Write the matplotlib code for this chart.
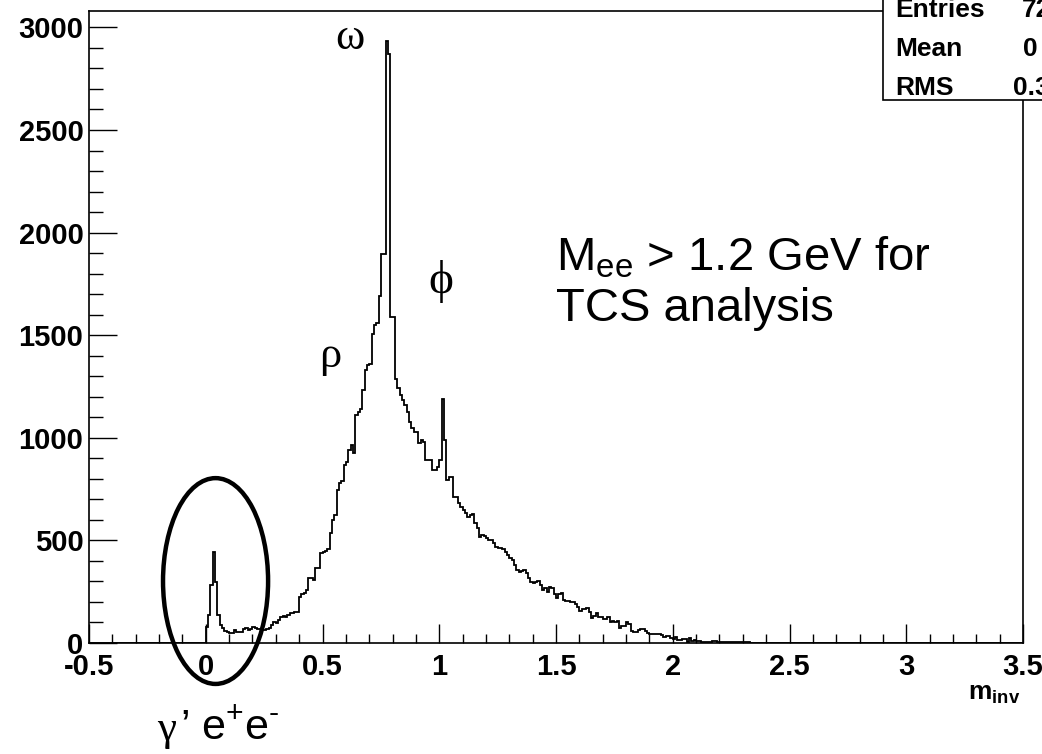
import numpy as np
import matplotlib
matplotlib.use("Agg")
import matplotlib.pyplot as plt
from matplotlib.patches import Ellipse, Rectangle
from matplotlib.ticker import MultipleLocator

plt.rcParams["font.family"] = ["Liberation Sans", "DejaVu Sans"]
plt.rcParams["mathtext.fontset"] = "custom"
plt.rcParams["mathtext.rm"] = "Liberation Sans"
plt.rcParams["mathtext.default"] = "regular"

# histogram: 0.01 wide bins, first filled bin starts at 0.00
hist_lo, hist_hi, bin_width = -0.5, 3.5, 0.01
first_filled = 0.0

counts_gamma = [80, 136, 283, 445, 299, 136, 88, 71, 60, 52,
                47, 50, 63, 55, 55, 55, 68, 72, 62, 70,
                78, 72, 66, 70, 64, 63, 70, 72, 86, 100,
                96, 112, 128, 130, 125, 135, 148, 148, 150, 152]
counts_rho_omega = [226, 237, 245, 258, 318, 318, 307, 364, 364, 437,
                    445, 450, 456, 534, 599, 623, 745, 778, 790, 867,
                    880, 940, 964, 924, 1110, 1127, 1140, 1232, 1330, 1354,
                    1360, 1508, 1549, 1560, 1690, 1898, 1898, 2934, 2872, 1590,
                    1590, 1289, 1241, 1208, 1184, 1159, 1127, 1078, 1050, 1029,
                    1029, 973, 989, 981, 891, 891, 891, 843, 843, 859]
counts_phi = [891, 1187, 989, 794, 810, 810, 713, 713, 680, 664,
              648, 632, 615, 625, 628, 583, 560, 518, 526, 520,
              510, 502, 502, 485, 469, 461, 461, 456, 445, 429,
              412, 404, 380, 356, 347, 350, 356, 339, 315, 299,
              291, 295, 304, 283, 258, 266, 250, 274, 266, 240]
counts_tail = [220, 240, 245, 210, 206, 206, 198, 198, 190, 174,
               157, 166, 166, 169, 152, 120, 130, 146, 125, 125,
               117, 117, 125, 104, 109, 101, 109, 72, 81, 81,
               101, 93, 60, 55, 55, 65, 68, 68, 60, 47,
               44, 44, 44, 44, 44, 39, 28, 36, 36, 23,
               19, 28, 16, 16, 19, 19, 6, 23, 11, 15,
               8, 8, 3, 6, 6, 3, 3, 9, 9, 6,
               6, 6, 3, 3, 3, 3, 3, 3, 6, 6,
               3, 3, 3, 2, 2, 2, 2, 2, 2, 1,
               1, 1, 1, 1, 1]

x_ticks = [-0.5, 0, 0.5, 1, 1.5, 2, 2.5, 3, 3.5]
x_ticklabels = ["-0.5", "0", "0.5", "1", "1.5", "2", "2.5", "3", "3.5"]
y_ticks = [0, 500, 1000, 1500, 2000, 2500, 3000]
y_ticklabels = ["0", "500", "1000", "1500", "2000", "2500", "3000"]

stats_names = ["Entries", "Mean", "RMS"]
stats_values = ["72", "0", "0.3"]

# build the full histogram
n_bins = int(round((hist_hi - hist_lo) / bin_width))
edges = np.linspace(hist_lo, hist_hi, n_bins + 1)
values = np.array(counts_gamma + counts_rho_omega + counts_phi + counts_tail, dtype=float)
counts = np.zeros(n_bins)
start = int(round((first_filled - hist_lo) / bin_width))
counts[start:start + len(values)] = values

W, H = 1042, 754
fig = plt.figure(figsize=(W / 100, H / 100), dpi=100)
ax = fig.add_axes([89 / W, 111 / H, (1023 - 89) / W, (743 - 111) / H])

ax.stairs(counts, edges, color="black", linewidth=1.3)
ax.set_xlim(hist_lo, hist_hi)
ax.set_ylim(0, 3080)

ax.set_xticks(x_ticks)
ax.set_xticklabels(x_ticklabels)
ax.set_yticks(y_ticks)
ax.set_yticklabels(y_ticklabels)
ax.xaxis.set_minor_locator(MultipleLocator(0.1))
ax.yaxis.set_minor_locator(MultipleLocator(100))
ax.tick_params(axis="x", which="major", direction="in", length=13.5, width=1.0, pad=7)
ax.tick_params(axis="x", which="minor", direction="in", length=6.5, width=1.0)
ax.tick_params(axis="y", which="major", direction="in", length=20, width=1.0, pad=4)
ax.tick_params(axis="y", which="minor", direction="in", length=10, width=1.0)
for lab in ax.get_xticklabels() + ax.get_yticklabels():
    lab.set_fontsize(21)
    lab.set_fontweight("bold")
for sp in ax.spines.values():
    sp.set_linewidth(1.2)

# gamma' peak marker
ax.add_patch(Ellipse((0.042, 302), 0.45, 1003, fill=False, lw=3.2,
                     edgecolor="black", clip_on=False, zorder=4))

# resonance labels
greek = dict(family=["Liberation Serif", "DejaVu Serif"], fontsize=32, ha="center", va="center")
ax.text(0.618, 2950, "ω", **greek)
ax.text(0.535, 1400, "ρ", **greek)
ax.text(1.007, 1760, "ϕ", fontsize=34, family=greek["family"], ha="center", va="center")

ax.text(1.5, 1878, "M$_{ee}$ > 1.2 GeV for", fontsize=34, va="center", ha="left")
ax.text(1.5, 1630, "TCS analysis", fontsize=34, va="center", ha="left")

fig.text(157 / W, 1 - 730 / H, "γ", family=["Liberation Serif", "DejaVu Serif"],
         fontsize=31, va="center", ha="left")
fig.text(180 / W, 1 - 728 / H, r"’ e$^{+}$e$^{\text{-}}$", fontsize=31, va="center", ha="left")

fig.text(1020 / W, 1 - 694 / H, "m$_{inv}$", fontsize=19, fontweight="bold",
         ha="right", va="center")

# stats box, cut by the right edge
fig.add_artist(Rectangle((883 / W, 1 - 100 / H), 0.3, 0.3, transform=fig.transFigure,
                         facecolor="white", edgecolor="black", lw=1.2, zorder=5))
for i, (name, val) in enumerate(zip(stats_names, stats_values)):
    yy = 1 - (10 + 39 * i) / H
    fig.text(895 / W, yy, name, fontsize=19, fontweight="bold", va="center", zorder=6)
    x_val = [1022, 1023, 1013][i]
    fig.text(x_val / W, yy, val, fontsize=19, fontweight="bold", va="center", zorder=6)

fig.savefig("out.png", dpi=100)
